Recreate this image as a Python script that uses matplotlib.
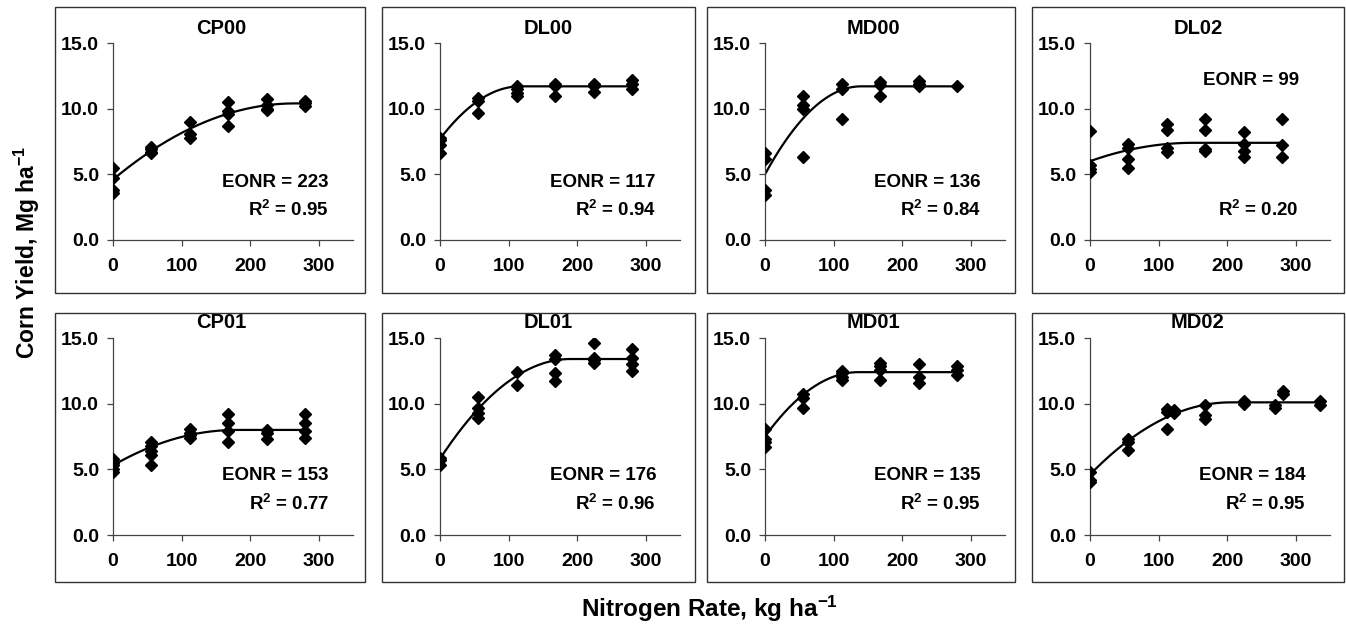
import numpy as np
import matplotlib
matplotlib.use('Agg')
import matplotlib.pyplot as plt
from matplotlib.patches import Rectangle

plt.rcParams['font.family'] = ['Liberation Sans', 'DejaVu Sans']
plt.rcParams['font.weight'] = 'bold'
plt.rcParams['mathtext.fontset'] = 'custom'
plt.rcParams['mathtext.rm'] = 'Liberation Sans:bold'
plt.rcParams['mathtext.it'] = 'Liberation Sans:bold'
plt.rcParams['mathtext.bf'] = 'Liberation Sans:bold'
plt.rcParams['mathtext.default'] = 'rm'

# panel order: top row then bottom row
sites = ['CP00', 'DL00', 'MD00', 'DL02', 'CP01', 'DL01', 'MD01', 'MD02']
eonr = [223, 117, 136, 99, 153, 176, 135, 184]
r2 = ['0.95', '0.94', '0.84', '0.20', '0.77', '0.96', '0.95', '0.95']

# quadratic-plateau fit: intercept, plateau yield, join point
fit_a = [4.6, 7.7, 5.0, 6.0, 5.3, 5.8, 7.5, 4.6]
fit_plateau = [10.4, 11.7, 11.7, 7.4, 8.0, 13.4, 12.4, 10.1]
fit_join = [265, 117, 140, 150, 180, 190, 136, 205]

cp00_n = [0, 0, 0, 0, 56, 56, 56, 56, 112, 112, 112, 168, 168, 168, 168, 224, 224, 224, 224, 280, 280, 280]
cp00_y = [5.5, 4.7, 3.8, 3.6, 7.1, 6.9, 6.7, 6.6, 9.0, 8.1, 7.8, 10.5, 9.8, 9.6, 8.7, 10.7, 10.3, 10.0, 9.9, 10.6, 10.4, 10.2]

dl00_n = [0, 0, 0, 0, 56, 56, 56, 112, 112, 112, 112, 168, 168, 168, 224, 224, 224, 280, 280, 280]
dl00_y = [7.8, 7.6, 7.2, 6.6, 10.8, 10.6, 9.7, 11.7, 11.5, 11.2, 11.0, 11.9, 11.7, 11.0, 11.9, 11.7, 11.3, 12.2, 11.9, 11.5]

md00_n = [0, 0, 0, 0, 56, 56, 56, 56, 112, 112, 112, 168, 168, 168, 224, 224, 224, 280]
md00_y = [6.6, 6.2, 3.8, 3.4, 11.0, 10.3, 10.0, 6.3, 11.9, 11.5, 9.2, 12.0, 11.8, 11.0, 12.1, 11.9, 11.7, 11.7]

dl02_n = [0, 0, 0, 0, 56, 56, 56, 56, 112, 112, 112, 112, 168, 168, 168, 168, 224, 224, 224, 224, 280, 280, 280]
dl02_y = [8.3, 5.7, 5.4, 5.2, 7.3, 7.0, 6.2, 5.5, 8.8, 8.4, 7.0, 6.7, 9.2, 8.4, 6.9, 6.8, 8.2, 7.3, 6.8, 6.3, 9.2, 7.2, 6.3]

cp01_n = [0, 0, 0, 0, 0, 56, 56, 56, 56, 56, 112, 112, 112, 112, 168, 168, 168, 168, 224, 224, 224, 280, 280, 280, 280]
cp01_y = [5.8, 5.5, 5.3, 5.0, 4.8, 7.1, 6.8, 6.4, 6.1, 5.3, 8.1, 7.8, 7.6, 7.4, 9.2, 8.5, 7.9, 7.1, 8.0, 7.8, 7.3, 9.2, 8.5, 7.9, 7.4]

dl01_n = [0, 0, 0, 56, 56, 56, 56, 112, 112, 168, 168, 168, 168, 224, 224, 224, 224, 280, 280, 280, 280]
dl01_y = [5.9, 5.7, 5.3, 10.5, 9.7, 9.3, 8.9, 12.4, 11.4, 13.7, 13.4, 12.3, 11.7, 14.6, 13.5, 13.3, 13.1, 14.2, 13.5, 13.0, 12.5]

md01_n = [0, 0, 0, 0, 56, 56, 56, 112, 112, 112, 112, 168, 168, 168, 168, 224, 224, 224, 280, 280, 280]
md01_y = [8.1, 7.3, 7.1, 6.7, 10.7, 10.4, 9.7, 12.5, 12.3, 12.0, 11.8, 13.1, 12.9, 12.6, 11.8, 13.0, 12.0, 11.6, 12.9, 12.6, 12.2]

md02_n = [0, 0, 0, 56, 56, 56, 112, 112, 112, 123, 123, 168, 168, 168, 224, 224, 270, 270, 282, 282, 336, 336]
md02_y = [4.8, 4.2, 4.0, 7.3, 7.1, 6.5, 9.6, 9.4, 8.1, 9.5, 9.3, 9.9, 9.1, 8.8, 10.2, 10.0, 9.9, 9.7, 11.0, 10.7, 10.2, 9.9]

n_data = [cp00_n, dl00_n, md00_n, dl02_n, cp01_n, dl01_n, md01_n, md02_n]
y_data = [cp00_y, dl00_y, md00_y, dl02_y, cp01_y, dl01_y, md01_y, md02_y]

W, H = 1346, 626
fig = plt.figure(figsize=(W / 100, H / 100), dpi=100)

# layout in pixels
ax_left = [113, 440, 765, 1090]
ax_w = 240
ax_top = [43, 338]
ax_h = 197
box_x = [(55, 365), (382, 695), (707, 1015), (1032, 1344)]
box_y = [(7, 293), (313, 582)]
eonr_y = [0.29, 0.29, 0.29, 0.81, 0.30, 0.30, 0.30, 0.30]

gray = '#444444'
for i in range(8):
    r, c = divmod(i, 4)
    x0, x1 = box_x[c]
    y0, y1 = box_y[r]
    fig.patches.append(Rectangle((x0 / W, 1 - y1 / H), (x1 - x0) / W, (y1 - y0) / H,
                                 transform=fig.transFigure, fill=False,
                                 edgecolor='#333333', lw=1.0))

    ax = fig.add_axes([ax_left[c] / W, 1 - (ax_top[r] + ax_h) / H, ax_w / W, ax_h / H])
    n = np.array(n_data[i])
    y = np.array(y_data[i])
    ax.plot(n, y, 'D', color='black', ms=6.3, zorder=3)

    xc = np.linspace(0, n.max(), 200)
    a, p, x0j = fit_a[i], fit_plateau[i], fit_join[i]
    cq = -(p - a) / x0j ** 2
    bq = -2 * cq * x0j
    yc = np.where(xc < x0j, a + bq * xc + cq * xc ** 2, p)
    ax.plot(xc, yc, color='black', lw=1.6, zorder=2)

    ax.set_xlim(0, 350)
    ax.set_ylim(0, 15)
    ax.set_xticks([0, 100, 200, 300])
    ax.set_yticks([0, 5, 10, 15])
    ax.set_yticklabels(['%.1f' % v for v in [0, 5, 10, 15]])
    for s in ['top', 'right']:
        ax.spines[s].set_visible(False)
    for s in ['left', 'bottom']:
        ax.spines[s].set_color(gray)
        ax.spines[s].set_linewidth(0.9)
    ax.tick_params(axis='both', direction='out', length=4, width=0.9, color=gray,
                   labelsize=14)
    ax.tick_params(axis='x', pad=9)
    ax.tick_params(axis='y', pad=6)
    ax.patch.set_alpha(0)

    ax.text(0.45, 1 + 15 / ax_h, sites[i], transform=ax.transAxes,
            ha='center', va='center', fontsize=14.5, fontweight='bold')
    if i == 3:
        ax.text(0.87, eonr_y[i], 'EONR = %d' % eonr[i], transform=ax.transAxes,
                ha='right', va='center', fontsize=13.5, fontweight='bold')
        ax.text(0.87, 0.15, 'R$^{2}$ = ' + r2[i], transform=ax.transAxes,
                ha='right', va='center', fontsize=13.5, fontweight='bold')
    else:
        ax.text(0.9, eonr_y[i], 'EONR = %d' % eonr[i], transform=ax.transAxes,
                ha='right', va='center', fontsize=13.5, fontweight='bold')
        ax.text(0.9, eonr_y[i] - 0.14, 'R$^{2}$ = ' + r2[i], transform=ax.transAxes,
                ha='right', va='center', fontsize=13.5, fontweight='bold')

fig.text(27 / W, 1 - 252 / H, 'Corn Yield, Mg ha$^{-1}$', rotation=90,
         ha='center', va='center', fontsize=16.5, fontweight='bold')
fig.text(709 / W, 1 - 609 / H, 'Nitrogen Rate, kg ha$^{-1}$',
         ha='center', va='center', fontsize=17.5, fontweight='bold')

fig.savefig('out.png', dpi=100, facecolor='white')
